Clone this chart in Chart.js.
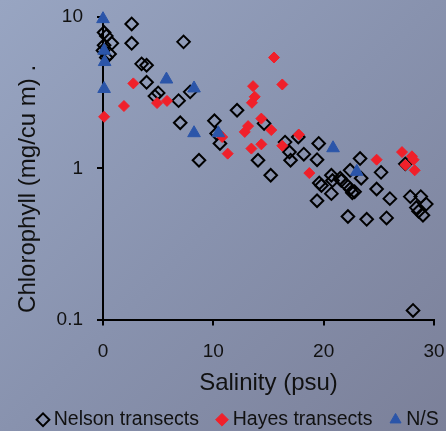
<!DOCTYPE html>
<html>
<head>
<meta charset="utf-8">
<script src="https://cdn.jsdelivr.net/npm/chart.js@4.4.1/dist/chart.umd.min.js"></script>
<style>
html,body{margin:0;padding:0;}
body{width:446px;height:431px;overflow:hidden;background:linear-gradient(135deg,#98a5c2 0%,#8892ae 50%,#7b8099 100%);}
#wrap{position:relative;width:446px;height:431px;}
</style>
</head>
<body>
<div id="wrap"><canvas id="c" width="446" height="431"></canvas></div>
<script>
// ---- data ----
const nelsonSalinity = [0.1,0.3,0.1,0.8,0.0,0.6,0.3,2.6,2.6,7.3,3.5,3.95,3.95,4.7,5.0,6.85,7.9,7.0,8.7,12.15,10.1,10.3,10.6,14.6,14.05,15.2,16.5,16.9,17.0,17.7,18.2,19.55,19.4,19.4,19.6,19.8,20.7,20.7,20.8,21.6,21.5,22.05,22.2,22.4,22.4,22.6,22.8,23.3,23.4,23.9,24.8,25.2,25.7,26.0,27.4,27.85,28.1,28.4,28.6,28.8,29.0,29.3];
const nelsonChl      = [7.9,7.5,6.5,6.7,6.0,5.7,5.4,9.0,6.7,6.85,4.9,4.8,3.7,3.0,3.15,2.8,3.2,2.0,1.13,2.42,2.06,1.70,1.46,1.98,1.13,0.90,1.49,1.28,1.13,1.61,1.24,1.46,1.14,0.61,0.80,0.77,0.90,0.68,0.83,0.83,0.86,0.78,0.48,0.97,0.73,0.69,0.70,1.16,0.86,0.46,0.73,0.94,0.47,0.63,1.07,0.65,0.115,0.55,0.52,0.65,0.49,0.58];

const hayesSalinity = [0.1,1.9,2.75,4.9,5.8,15.5,16.25,13.6,13.75,13.5,14.35,10.8,11.3,13.15,12.85,13.45,14.35,15.25,16.25,17.75,18.7,24.8,27.1,27.4,28.0,28.15,28.25];
const hayesChl      = [2.19,2.58,3.64,2.70,2.79,5.4,3.58,3.49,2.97,2.71,2.13,1.61,1.25,1.90,1.74,1.35,1.44,1.79,1.41,1.67,0.93,1.14,1.28,1.05,1.20,1.14,0.97];

const nsSalinity = [0.0,0.1,0.15,0.1,5.75,8.25,8.25,10.45,20.85,23.0];
const nsChl      = [9.7,6.0,5.05,3.35,3.87,3.38,1.71,1.71,1.36,0.95];

const seriesNames = ['Nelson transects','Hayes transects','N/S'];
const yTickValues = [0.1, 1, 10];
const yTickLabels = ['0.1', '1', '10'];
const xTickStep = 10;

function pts(xs, ys){ return xs.map((x,i)=>({x:x, y:ys[i]})); }

const legendShift = {
  id: 'legendShift',
  afterLayout(chart){
    const l = chart.legend;
    if(!l) return;
    const dx = 17.4, dy = -10;
    l.left += dx; l.right += dx; l.top += dy; l.bottom = chart.height;
  }
};

const FONT = '"Liberation Sans", Arial, sans-serif';
Chart.defaults.color = '#111';
Chart.defaults.font.family = FONT;

new Chart(document.getElementById('c'), {
  type: 'scatter',
  data: {
    datasets: [
      { label: seriesNames[0], data: pts(nelsonSalinity, nelsonChl), pointStyle: 'rectRot', pointRadius: 6.3, pointHoverRadius: 6.3,
        borderColor: '#000', backgroundColor: 'rgba(0,0,0,0)', borderWidth: 2, order: 3, clip: false },
      { label: seriesNames[1], data: pts(hayesSalinity, hayesChl), pointStyle: 'rectRot', pointRadius: 5.5, pointHoverRadius: 5.5,
        borderColor: '#f0202a', backgroundColor: '#f0202a', borderWidth: 1, order: 2, clip: false },
      { label: seriesNames[2], data: pts(nsSalinity, nsChl), pointStyle: 'triangle', pointRadius: 7.3, pointHoverRadius: 7.3,
        borderColor: '#2b55a9', backgroundColor: '#2b55a9', borderWidth: 1, order: 1, clip: false }
    ]
  },
  options: {
    responsive: false,
    animation: false,
    layout: { autoPadding: false, padding: { left: 0, right: 0, top: 17, bottom: 0 } },
    plugins: {
      legend: {
        position: 'bottom',
        maxHeight: 33,
        labels: {
          usePointStyle: true, boxWidth: 2, boxHeight: 9, padding: 22,
          font: { size: 19.5, family: FONT }, color: '#111',
          sort: (a,b) => a.datasetIndex - b.datasetIndex
        }
      },
      tooltip: { enabled: false }
    },
    scales: {
      x: {
        type: 'linear', min: 0, max: 30,
        afterFit: (s) => { s.height = 78.4; s.paddingRight = 12; s.paddingLeft = 6; },
        ticks: { stepSize: xTickStep, padding: 15, font: { size: 19 }, color: '#111' },
        grid: { display: true, drawOnChartArea: false, drawTicks: true, tickLength: 6, color: '#000', lineWidth: 2 },
        border: { display: true, color: '#000', width: 2 },
        title: { display: true, text: 'Salinity (psu)', font: { size: 24 }, color: '#111', padding: { top: 6, bottom: 0 } }
      },
      y: {
        type: 'logarithmic', min: 0.1, max: 10,
        afterFit: (s) => { s.width = 103; s.paddingTop = 0; s.paddingBottom = 0; },
        afterBuildTicks: (scale) => { scale.ticks = yTickValues.map(v => ({ value: v })); },
        ticks: { padding: 14, font: { size: 19 }, color: '#111',
          callback: (v) => { const i = yTickValues.indexOf(v); return i >= 0 ? yTickLabels[i] : ''; } },
        grid: { display: true, drawOnChartArea: false, drawTicks: true, tickLength: 6, color: '#000', lineWidth: 2 },
        border: { display: true, color: '#000', width: 2 },
        title: { display: true, align: 'start', text: ' Chlorophyll (mg/cu m) .', font: { size: 24 }, color: '#111', padding: { top: 13.6, bottom: 2 } }
      }
    }
  },
  plugins: [legendShift]
});
</script>
</body>
</html>
